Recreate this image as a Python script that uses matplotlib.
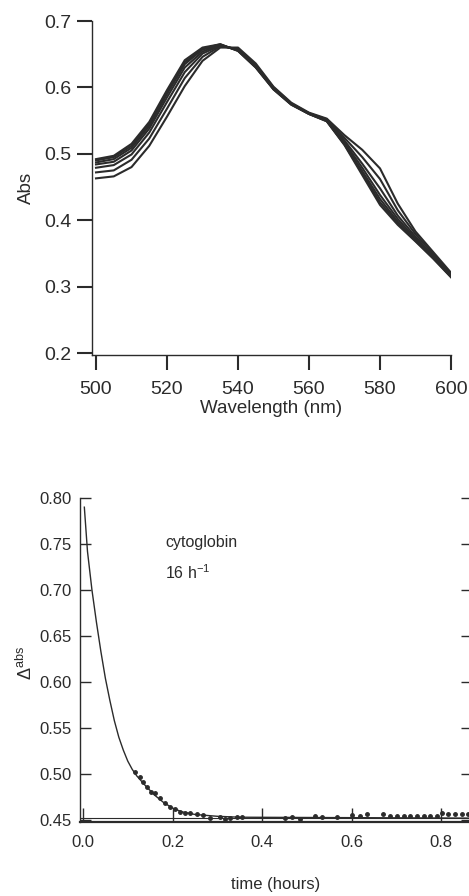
import matplotlib
matplotlib.use("Agg")
from matplotlib import pyplot as plt

# ---- top panel: spectra (wavelength in nm, absorbance) ----
wavelength = [500, 505, 510, 515, 520, 525, 530, 535, 540, 545, 550,
              555, 560, 565, 570, 575, 580, 585, 590, 595, 600]
spectra = [
    [0.492, 0.497, 0.515, 0.548, 0.596, 0.641, 0.660, 0.665, 0.655, 0.630, 0.597,
     0.574, 0.560, 0.549, 0.513, 0.468, 0.423, 0.393, 0.368, 0.342, 0.314],
    [0.490, 0.495, 0.512, 0.545, 0.593, 0.638, 0.658, 0.665, 0.655, 0.630, 0.597,
     0.574, 0.560, 0.549, 0.514, 0.471, 0.427, 0.396, 0.369, 0.343, 0.315],
    [0.487, 0.492, 0.509, 0.542, 0.590, 0.635, 0.657, 0.664, 0.656, 0.631, 0.598,
     0.575, 0.560, 0.550, 0.515, 0.474, 0.432, 0.398, 0.370, 0.344, 0.315],
    [0.484, 0.488, 0.505, 0.538, 0.585, 0.630, 0.654, 0.664, 0.656, 0.632, 0.598,
     0.575, 0.561, 0.550, 0.517, 0.479, 0.438, 0.402, 0.372, 0.345, 0.316],
    [0.479, 0.483, 0.499, 0.532, 0.578, 0.623, 0.651, 0.663, 0.657, 0.633, 0.599,
     0.575, 0.561, 0.551, 0.520, 0.485, 0.448, 0.407, 0.375, 0.346, 0.317],
    [0.472, 0.475, 0.491, 0.523, 0.568, 0.614, 0.646, 0.662, 0.658, 0.634, 0.600,
     0.576, 0.561, 0.552, 0.524, 0.495, 0.462, 0.415, 0.379, 0.349, 0.319],
    [0.463, 0.466, 0.480, 0.512, 0.556, 0.602, 0.640, 0.660, 0.660, 0.636, 0.601,
     0.577, 0.562, 0.553, 0.528, 0.506, 0.478, 0.425, 0.383, 0.352, 0.321],
]
top_xticks = [500, 520, 540, 560, 580, 600]
top_yticks = [0.2, 0.3, 0.4, 0.5, 0.6, 0.7]

# ---- bottom panel: kinetics (time in hours, delta abs) ----
fit_t = [0.003, 0.01, 0.02, 0.03, 0.04, 0.05, 0.06, 0.07, 0.08, 0.09, 0.10,
         0.11, 0.12, 0.14, 0.16, 0.18, 0.20, 0.22, 0.25, 0.30, 0.35, 0.87]
fit_a = [0.790, 0.742, 0.700, 0.665, 0.633, 0.604, 0.580, 0.558, 0.540, 0.526, 0.514,
         0.505, 0.498, 0.487, 0.477, 0.469, 0.463, 0.459, 0.456, 0.454, 0.453, 0.452]
pts_t = [0.116, 0.127, 0.135, 0.142, 0.153, 0.161, 0.172, 0.183, 0.194, 0.206,
         0.217, 0.228, 0.239, 0.254, 0.269, 0.284, 0.306, 0.317, 0.328, 0.343, 0.355,
         0.451, 0.466, 0.485, 0.518, 0.533, 0.567, 0.600, 0.619, 0.634, 0.670,
         0.686, 0.701, 0.716, 0.731, 0.746, 0.761, 0.776, 0.790,
         0.801, 0.816, 0.831, 0.846, 0.861]
pts_a = [0.5025, 0.497, 0.4916, 0.4862, 0.4808, 0.479, 0.4736, 0.4682, 0.4645, 0.4616,
         0.459, 0.458, 0.4572, 0.4565, 0.4554, 0.4518, 0.4529, 0.4507, 0.4518, 0.4536, 0.4536,
         0.4518, 0.4536, 0.4507, 0.4547, 0.4536, 0.4536, 0.4554, 0.4547, 0.4565, 0.4565,
         0.4543, 0.4543, 0.4543, 0.4543, 0.4543, 0.4543, 0.4543, 0.4543,
         0.458, 0.456, 0.4565, 0.4565, 0.457]
bot_xticks = [0.0, 0.2, 0.4, 0.6, 0.8]
bot_yticks = [0.45, 0.50, 0.55, 0.60, 0.65, 0.70, 0.75, 0.80]

INK = "#2b2b2b"
W, H = 469, 896
fig = plt.figure(figsize=(W / 100, H / 100), dpi=100)

# top axes, placed by pixel box
SANS = "Liberation Sans"
ax1 = fig.add_axes([92 / W, 1 - 355 / H, (451 - 92) / W, (355 - 21) / H])
for s in spectra:
    ax1.plot(wavelength, s, color=INK, lw=1.5)
ax1.set_xlim(498.87, 600)
ax1.set_ylim(0.197, 0.7)
ax1.set_xticks(top_xticks)
ax1.set_yticks(top_yticks)
ax1.set_yticklabels([f"{v:.1f}" for v in top_yticks])
ax1.spines["top"].set_visible(False)
ax1.spines["right"].set_visible(False)
for sp in ("left", "bottom"):
    ax1.spines[sp].set_linewidth(1.0)
    ax1.spines[sp].set_color(INK)
ax1.tick_params(axis="y", direction="out", length=11, width=1.5, color=INK, pad=4,
                labelsize=14, labelcolor=INK)
ax1.tick_params(axis="x", direction="out", length=11, width=1.5, color=INK, pad=8,
                labelsize=14, labelcolor=INK)
for lab in ax1.get_xticklabels() + ax1.get_yticklabels():
    lab.set_family(SANS)
ax1.set_xlabel("Wavelength (nm)", family=SANS, fontsize=13.5, color=INK)
ax1.set_ylabel("Abs", family=SANS, fontsize=13.5, color=INK)
ax1.xaxis.set_label_coords(0.5, -0.135)
ax1.yaxis.set_label_coords(-0.16, 0.5)

# bottom axes, right spine sits just past the figure edge
ax2 = fig.add_axes([80 / W, 1 - 822 / H, (472 - 80) / W, (822 - 498) / H])
ax2.plot(fit_t, fit_a, color=INK, lw=1.0)
ax2.plot(pts_t, pts_a, "o", color=INK, ms=2.5)
ax2.axhline(0.452, color=INK, lw=0.8)
ax2.set_xlim(-0.0067, 0.869)
ax2.set_ylim(0.4478, 0.80)
ax2.set_xticks(bot_xticks)
ax2.set_yticks(bot_yticks)
ax2.set_xticklabels([f"{v:.1f}" for v in bot_xticks])
ax2.set_yticklabels([f"{v:.2f}" for v in bot_yticks])
ax2.spines["top"].set_visible(False)
ax2.spines["left"].set_linewidth(1.0)
ax2.spines["bottom"].set_linewidth(1.6)
for sp in ("left", "bottom", "right"):
    ax2.spines[sp].set_color(INK)
ax2.tick_params(axis="y", direction="in", length=8, width=1, color=INK, pad=6,
                labelsize=12, labelcolor=INK, right=True)
ax2.tick_params(axis="x", direction="in", length=10, width=1, color=INK, pad=9,
                labelsize=12, labelcolor=INK)
for lab in ax2.get_xticklabels() + ax2.get_yticklabels():
    lab.set_family(SANS)
ax2.text(0.217, 0.864, "cytoglobin", transform=ax2.transAxes, family=SANS,
         fontsize=11.5, color=INK, va="center")
ax2.text(0.217, 0.769, r"16 h$\mathregular{^{-1}}$", transform=ax2.transAxes,
         family=SANS, fontsize=11.5, color=INK, va="center")
ax2.set_xlabel("time (hours)", family=SANS, fontsize=12, color=INK)
ax2.set_ylabel(r"$\mathregular{\Delta^{abs}}$", family=SANS, fontsize=13, color=INK)
ax2.xaxis.set_label_coords(0.5, -0.17)
ax2.yaxis.set_label_coords(-0.112, 0.49)

fig.savefig("out.png", dpi=100)
